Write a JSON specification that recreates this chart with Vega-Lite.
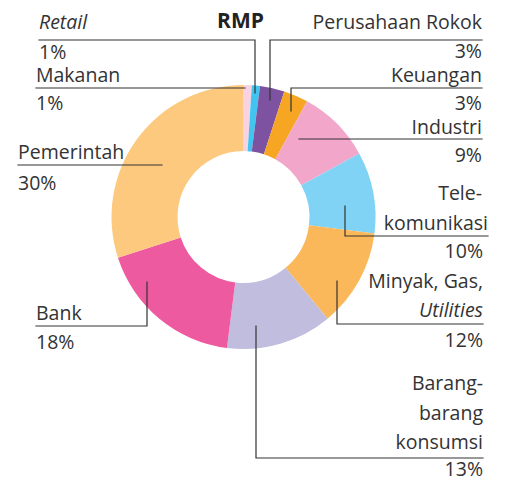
{
  "$schema": "https://vega.github.io/schema/vega-lite/v6.json",
  "width": 505,
  "height": 479,
  "autosize": {"type": "none"},
  "padding": 0,
  "background": "white",
  "config": {"view": {"stroke": null}, "text": {"font": "Open Sans"}},
  "datasets": {
    "slices": [
      {"idx": 1, "name": "Makanan", "pct": 1},
      {"idx": 2, "name": "Retail", "pct": 1},
      {"idx": 3, "name": "Perusahaan Rokok", "pct": 3},
      {"idx": 4, "name": "Keuangan", "pct": 3},
      {"idx": 5, "name": "Industri", "pct": 9},
      {"idx": 6, "name": "Telekomunikasi", "pct": 10},
      {"idx": 7, "name": "Minyak, Gas, Utilities", "pct": 12},
      {"idx": 8, "name": "Barang-barang konsumsi", "pct": 13},
      {"idx": 9, "name": "Bank", "pct": 18},
      {"idx": 10, "name": "Pemerintah", "pct": 30}
    ],
    "leftLabels": [
      {"t": "1%", "x": 39, "y": 59},
      {"t": "Makanan", "x": 36, "y": 82},
      {"t": "1%", "x": 36, "y": 110},
      {"t": "Pemerintah", "x": 18, "y": 159},
      {"t": "30%", "x": 18, "y": 190},
      {"t": "Bank", "x": 36, "y": 320},
      {"t": "18%", "x": 36, "y": 349}
    ],
    "leftItalic": [
      {"t": "Retail", "x": 39, "y": 29}
    ],
    "rightLabels": [
      {"t": "Perusahaan Rokok", "x": 482, "y": 29},
      {"t": "3%", "x": 482, "y": 58},
      {"t": "Keuangan", "x": 482, "y": 82},
      {"t": "3%", "x": 482, "y": 110},
      {"t": "Industri", "x": 482, "y": 134},
      {"t": "9%", "x": 482, "y": 162},
      {"t": "Tele-", "x": 482, "y": 200},
      {"t": "komunikasi", "x": 488, "y": 230},
      {"t": "10%", "x": 483, "y": 258},
      {"t": "Minyak, Gas,", "x": 483, "y": 288},
      {"t": "12%", "x": 483, "y": 347},
      {"t": "Barang-", "x": 483, "y": 390},
      {"t": "barang", "x": 483, "y": 420},
      {"t": "konsumsi", "x": 483, "y": 449},
      {"t": "13%", "x": 483, "y": 476}
    ],
    "rightItalic": [
      {"t": "Utilities", "x": 483, "y": 317}
    ],
    "titleText": [
      {"t": "RMP", "x": 240.5, "y": 28}
    ],
    "leaders": [
      {"id": "Retail", "seq": 1, "x": 39, "y": 40},
      {"id": "Retail", "seq": 2, "x": 255, "y": 40},
      {"id": "Retail", "seq": 3, "x": 255, "y": 93},
      {"id": "Makanan", "seq": 1, "x": 36, "y": 88},
      {"id": "Makanan", "seq": 2, "x": 245, "y": 88},
      {"id": "Pemerintah", "seq": 1, "x": 18, "y": 165},
      {"id": "Pemerintah", "seq": 2, "x": 162, "y": 165},
      {"id": "Rokok", "seq": 1, "x": 482, "y": 40},
      {"id": "Rokok", "seq": 2, "x": 270, "y": 40},
      {"id": "Rokok", "seq": 3, "x": 270, "y": 100},
      {"id": "Keuangan", "seq": 1, "x": 482, "y": 88},
      {"id": "Keuangan", "seq": 2, "x": 291, "y": 88},
      {"id": "Keuangan", "seq": 3, "x": 291, "y": 111},
      {"id": "Industri", "seq": 1, "x": 482, "y": 139},
      {"id": "Industri", "seq": 2, "x": 299, "y": 139},
      {"id": "Telekom", "seq": 1, "x": 488, "y": 236},
      {"id": "Telekom", "seq": 2, "x": 345, "y": 236},
      {"id": "Telekom", "seq": 3, "x": 345, "y": 206},
      {"id": "Minyak", "seq": 1, "x": 483, "y": 324},
      {"id": "Minyak", "seq": 2, "x": 337, "y": 324},
      {"id": "Minyak", "seq": 3, "x": 337, "y": 281},
      {"id": "Barang", "seq": 1, "x": 483, "y": 458},
      {"id": "Barang", "seq": 2, "x": 256, "y": 458},
      {"id": "Barang", "seq": 3, "x": 256, "y": 326},
      {"id": "Bank", "seq": 1, "x": 36, "y": 326},
      {"id": "Bank", "seq": 2, "x": 147, "y": 326},
      {"id": "Bank", "seq": 3, "x": 147, "y": 282}
    ]
  },
  "layer": [
    {
      "data": {"name": "slices"},
      "mark": {"type": "arc", "innerRadius": 66, "outerRadius": 132},
      "encoding": {
        "theta": {"field": "pct", "type": "quantitative", "stack": true},
        "order": {"field": "idx", "type": "quantitative"},
        "color": {
          "field": "name", "type": "nominal", "legend": null,
          "scale": {
            "domain": ["Makanan", "Retail", "Perusahaan Rokok", "Keuangan", "Industri", "Telekomunikasi", "Minyak, Gas, Utilities", "Barang-barang konsumsi", "Bank", "Pemerintah"],
            "range": ["#F9D3E2", "#41C5F0", "#7D52A1", "#F6A623", "#F2A6CA", "#80D3F5", "#FBB85A", "#C0BDDE", "#EE5AA0", "#FDC97F"]
          }
        },
        "x": {"datum": 243.5, "type": "quantitative", "scale": {"domain": [0, 505], "nice": false, "zero": false}, "axis": null},
        "y": {"datum": 217, "type": "quantitative", "scale": {"domain": [0, 479], "nice": false, "zero": false, "reverse": true}, "axis": null}
      }
    },
    {
      "data": {"name": "leaders"},
      "mark": {"type": "line", "color": "#333333", "strokeWidth": 1.2, "strokeCap": "square"},
      "encoding": {
        "x": {"field": "x", "type": "quantitative", "axis": null},
        "y": {"field": "y", "type": "quantitative", "axis": null},
        "detail": {"field": "id"},
        "order": {"field": "seq", "type": "quantitative"}
      }
    },
    {
      "data": {"name": "leftLabels"},
      "mark": {"type": "text", "align": "left", "baseline": "alphabetic", "fontSize": 19.5, "color": "#333333", "font": "Open Sans"},
      "encoding": {
        "x": {"field": "x", "type": "quantitative"},
        "y": {"field": "y", "type": "quantitative"},
        "text": {"field": "t"}
      }
    },
    {
      "data": {"name": "leftItalic"},
      "mark": {"type": "text", "align": "left", "baseline": "alphabetic", "fontSize": 19.5, "fontStyle": "italic", "color": "#333333", "font": "Open Sans"},
      "encoding": {
        "x": {"field": "x", "type": "quantitative"},
        "y": {"field": "y", "type": "quantitative"},
        "text": {"field": "t"}
      }
    },
    {
      "data": {"name": "rightLabels"},
      "mark": {"type": "text", "align": "right", "baseline": "alphabetic", "fontSize": 19.5, "color": "#333333", "font": "Open Sans"},
      "encoding": {
        "x": {"field": "x", "type": "quantitative"},
        "y": {"field": "y", "type": "quantitative"},
        "text": {"field": "t"}
      }
    },
    {
      "data": {"name": "rightItalic"},
      "mark": {"type": "text", "align": "right", "baseline": "alphabetic", "fontSize": 19.5, "fontStyle": "italic", "color": "#333333", "font": "Open Sans"},
      "encoding": {
        "x": {"field": "x", "type": "quantitative"},
        "y": {"field": "y", "type": "quantitative"},
        "text": {"field": "t"}
      }
    },
    {
      "data": {"name": "titleText"},
      "mark": {"type": "text", "align": "center", "baseline": "alphabetic", "fontSize": 21, "fontWeight": "bold", "color": "#222222", "font": "Open Sans"},
      "encoding": {
        "x": {"field": "x", "type": "quantitative"},
        "y": {"field": "y", "type": "quantitative"},
        "text": {"field": "t"}
      }
    }
  ]
}
